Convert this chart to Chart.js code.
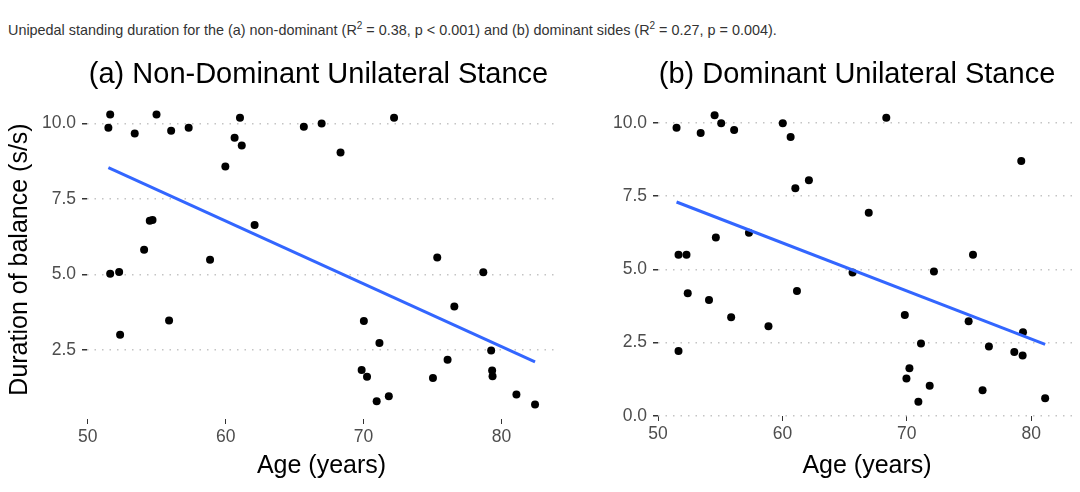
<!DOCTYPE html>
<html>
<head>
<meta charset="utf-8">
<script src="https://cdn.jsdelivr.net/npm/chart.js@4.4.1/dist/chart.umd.min.js"></script>
<style>
    body {
        margin: 0;
        background: #fff;
        width: 1080px;
        height: 492px;
        position: relative;
        overflow: hidden;
        font-family: "Liberation Sans", Arial, sans-serif;
    }

    #caption {
        position: absolute;
        left: 8px;
        top: 22px;
        font-size: 14.4px;
        color: #333;
        white-space: nowrap;
    }

    #caption sup {
        font-size: 10px;
        line-height: 0;
    }

    .panel {
        position: absolute;
        top: 0;
        height: 492px;
    }
</style>
</head>
<body>

<div id="caption">Unipedal standing duration for the (a) non-dominant (R<sup>2</sup> = 0.38, p &lt; 0.001) and (b) dominant sides (R<sup>2</sup> = 0.27, p = 0.004).</div>

<div class="panel" style="left:0;width:560px"><canvas id="chartA"></canvas></div>
<div class="panel" style="left:560px;width:520px"><canvas id="chartB"></canvas></div>

<script>

// (a) non-dominant side
const ageA = [51.63, 51.5, 51.63, 52.28, 52.35, 53.41, 54.09, 54.5, 54.7, 54.99,
    55.9, 56.05, 57.32, 58.87, 59.98, 60.65, 61.04, 61.17, 62.1, 65.67,
    66.96, 68.33, 72.21, 69.86, 70.02, 70.25, 70.95, 71.15, 71.83, 75.03,
    75.34, 76.09, 76.58, 78.68, 79.25, 79.32, 79.35, 81.08, 82.43]
const durA = [10.3, 9.86, 5.02, 5.08, 3.0, 9.67, 5.82, 6.78, 6.8, 10.3,
    3.47, 9.76, 9.86, 5.49, 8.58, 9.53, 10.19, 9.27, 6.64, 9.89,
    10.0, 9.04, 10.19, 1.83, 3.46, 1.61, 0.8, 2.73, 0.96, 1.57,
    5.56, 2.17, 3.94, 5.07, 2.48, 1.82, 1.63, 1.02, 0.69]
const fitAgeA = [51.5, 82.43]
const fitDurA = [8.54, 2.1]

// (b) dominant side
const ageB = [51.49, 51.65, 52.29, 52.39, 51.65, 53.43, 54.1, 54.55, 54.65, 55.08,
    55.88, 56.12, 57.31, 58.88, 60.03, 60.66, 61.04, 61.17, 62.13, 65.64,
    66.94, 68.35, 69.84, 69.97, 70.21, 70.93, 71.14, 71.84, 72.18, 74.97,
    75.32, 76.09, 76.6, 78.64, 79.2, 79.34, 79.31, 81.12]
const durB = [9.84, 5.5, 5.5, 4.18, 2.21, 9.66, 3.95, 10.26, 6.09, 9.99,
    3.36, 9.76, 6.25, 3.06, 9.99, 9.52, 7.77, 4.26, 8.04, 4.89,
    6.93, 10.18, 3.44, 1.27, 1.62, 0.48, 2.47, 1.02, 4.93, 3.23,
    5.5, 0.87, 2.36, 2.18, 8.7, 2.85, 2.06, 0.6]
const fitAgeB = [51.49, 81.12]
const fitDurB = [7.3, 2.44]

const xTicks = [50, 60, 70, 80]
const yTicksA = [2.5, 5, 7.5, 10]
const yTicksB = [0, 2.5, 5, 7.5, 10]

const FONT = "'Liberation Sans', Arial, sans-serif"

// ggplot-style title over the panel
const panelTitle = {
    id: "panelTitle",
    afterDraw(chart, args, opts) {
        const { ctx, chartArea } = chart
        ctx.save()
        ctx.font = opts.size + "px " + FONT
        ctx.fillStyle = "#000"
        ctx.textAlign = "center"
        ctx.textBaseline = "middle"
        ctx.fillText(
            opts.text,
            (chartArea.left + chartArea.right) / 2 + opts.shift,
            opts.y
        )
        ctx.restore()
    }
}

function toPoints(xs, ys) {
    return xs.map((x, i) => ({ x, y: ys[i] }))
}

function createPanel(id, cfg) {

    return new Chart(
        document.getElementById(id),
        {
            type: "scatter",

            data: {
                datasets: [
                    {
                        data: toPoints(cfg.fitX, cfg.fitY),
                        showLine: true,
                        borderColor: "#3366FF",
                        borderWidth: 3,
                        pointRadius: 0
                    },
                    {
                        data: toPoints(cfg.x, cfg.y),
                        backgroundColor: "#000",
                        borderWidth: 0,
                        pointRadius: 4
                    }
                ]
            },

            options: {
                responsive: true,
                maintainAspectRatio: false,
                animation: false,
                events: [],

                layout: {
                    padding: cfg.padding
                },

                plugins: {
                    legend: { display: false },
                    tooltip: { enabled: false },
                    panelTitle: {
                        text: cfg.title,
                        size: 29,
                        y: 75,
                        shift: cfg.titleShift
                    }
                },

                scales: {
                    x: {
                        type: "linear",
                        min: cfg.xMin,
                        max: cfg.xMax,
                        afterBuildTicks: s => {
                            s.ticks = xTicks.map(v => ({ value: v }))
                        },
                        afterFit: s => {
                            s.height = cfg.xHeight
                        },
                        ticks: {
                            color: "#4d4d4d",
                            font: { family: FONT, size: 17.5 },
                            padding: 3
                        },
                        grid: {
                            drawOnChartArea: false,
                            drawTicks: true,
                            tickLength: 5,
                            tickColor: "#333"
                        },
                        border: { display: false },
                        title: {
                            display: true,
                            text: "Age (years)",
                            color: "#000",
                            font: { family: FONT, size: 25 },
                            padding: { top: 2, bottom: 11 }
                        }
                    },

                    y: {
                        type: "linear",
                        min: cfg.yMin,
                        max: cfg.yMax,
                        afterBuildTicks: s => {
                            s.ticks = cfg.yTicks.map(v => ({ value: v }))
                        },
                        afterFit: s => {
                            s.width = cfg.yWidth
                        },
                        ticks: {
                            color: "#4d4d4d",
                            font: { family: FONT, size: 17.5 },
                            padding: 6,
                            callback: v => v.toFixed(1)
                        },
                        grid: {
                            color: "#c4c4c4",
                            lineWidth: 1.5,
                            drawTicks: true,
                            tickLength: 5,
                            tickColor: "#333",
                            tickWidth: 1.5
                        },
                        border: {
                            display: false,
                            dash: [1.5, 6]
                        },
                        title: {
                            display: cfg.yTitle !== "",
                            text: cfg.yTitle,
                            color: "#000",
                            font: { family: FONT, size: 25 },
                            padding: { top: 5, bottom: 0 }
                        }
                    }
                }
            },

            plugins: [panelTitle]
        }
    )
}

createPanel("chartA", {
    title: "(a) Non-Dominant Unilateral Stance",
    titleShift: -3,
    yTitle: "Duration of balance (s/s)",
    x: ageA,
    y: durA,
    fitX: fitAgeA,
    fitY: fitDurA,
    xMin: 49.95,
    xMax: 83.95,
    yMin: 0.21,
    yMax: 10.78,
    yTicks: yTicksA,
    yWidth: 87,
    xHeight: 73,
    padding: { top: 100, left: 0, right: 4, bottom: 0 }
})

createPanel("chartB", {
    title: "(b) Dominant Unilateral Stance",
    titleShift: -10,
    yTitle: "",
    x: ageB,
    y: durB,
    fitX: fitAgeB,
    fitY: fitDurB,
    xMin: 50,
    xMax: 83.6,
    yMin: -0.01,
    yMax: 10.75,
    yTicks: yTicksB,
    yWidth: 98,
    xHeight: 76,
    padding: { top: 101, left: 0, right: 0, bottom: 0 }
})

</script>
</body>
</html>
